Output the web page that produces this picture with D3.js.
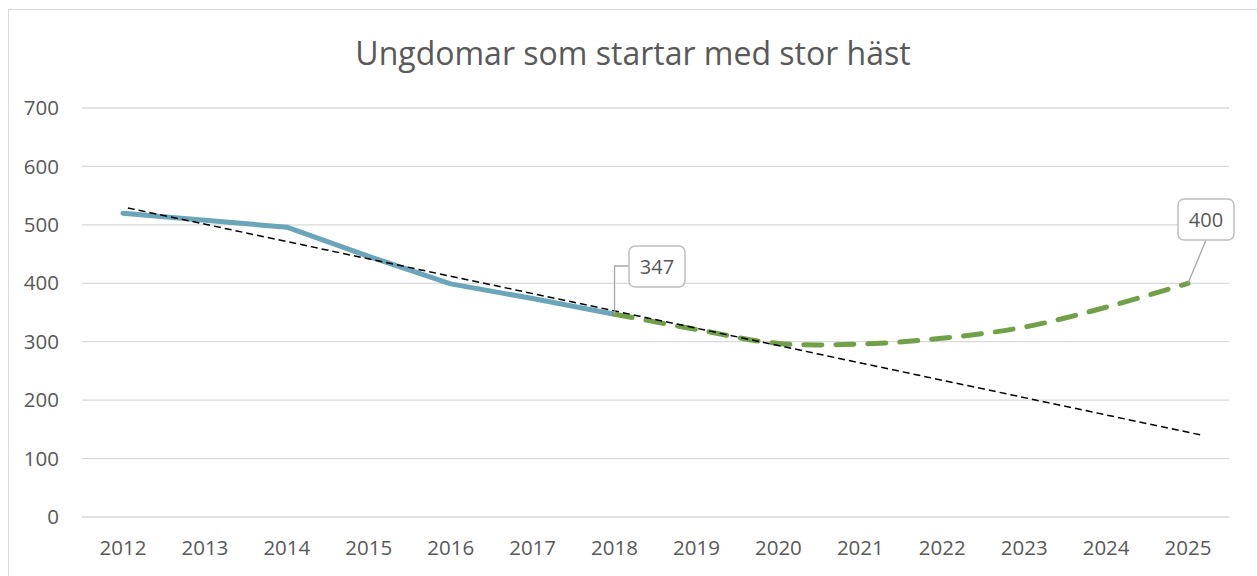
<!DOCTYPE html>
<html>
<head>
<meta charset="utf-8">
<script src="https://cdn.jsdelivr.net/npm/d3@7"></script>
<style>
  body { margin: 0; background: #fff; }
  text { font-family: "Open Sans", "Noto Sans", sans-serif; fill: #595959; }
</style>
</head>
<body>
<div id="chart"></div>
<script>
'use strict';

// data
var years = [2012, 2013, 2014, 2015, 2016, 2017, 2018, 2019, 2020, 2021, 2022, 2023, 2024, 2025];
var actualYears = [2012, 2013, 2014, 2015, 2016, 2017, 2018];
var actualValues = [520, 508, 496, 446, 399, 374, 347];
var forecastYears = [2018, 2019, 2020, 2021, 2022, 2023, 2024, 2025];
var forecastValues = [347, 321, 297, 296, 306, 325, 359, 400];
var trendYears = [2012.06, 2025.17];
var trendValues = [529, 140];
var yTicks = [0, 100, 200, 300, 400, 500, 600, 700];
var title = "Ungdomar som startar med stor häst";

var W = 1257, H = 576;
var margin = {top: 108, right: 28, bottom: 59, left: 82};
var width = W - margin.left - margin.right;
var height = H - margin.top - margin.bottom;

var svg = d3.select("#chart").append("svg")
    .attr("width", W)
    .attr("height", H);

// outer chart border
svg.append("rect")
    .attr("x", 8.5).attr("y", 9.5)
    .attr("width", W + 20).attr("height", H + 20)
    .attr("fill", "#fff")
    .attr("stroke", "#d9d9d9");

svg.append("text")
    .attr("x", 633)
    .attr("y", 65)
    .attr("text-anchor", "middle")
    .style("font-size", "32px")
    .text(title);

var g = svg.append("g")
    .attr("transform", "translate(" + margin.left + "," + margin.top + ")");

var x = d3.scaleLinear()
    .domain([years[0] - 0.5, years[years.length - 1] + 0.5])
    .range([0, width]);

var y = d3.scaleLinear()
    .domain([0, 700])
    .range([height, 0]);

// gridlines
g.append("g")
    .selectAll("line")
    .data(yTicks)
    .enter().append("line")
    .attr("x1", 0).attr("x2", width)
    .attr("y1", function(d) { return y(d); })
    .attr("y2", function(d) { return y(d); })
    .attr("stroke", "#d9d9d9")
    .attr("stroke-width", 1.3);

// y labels
g.append("g")
    .selectAll("text")
    .data(yTicks)
    .enter().append("text")
    .attr("x", -23)
    .attr("y", function(d) { return y(d); })
    .attr("dy", "0.35em")
    .attr("text-anchor", "end")
    .style("font-size", "20.5px")
    .text(function(d) { return d; });

// x labels
g.append("g")
    .selectAll("text")
    .data(years)
    .enter().append("text")
    .attr("x", function(d) { return x(d); })
    .attr("y", height + 31)
    .attr("dy", "0.35em")
    .attr("text-anchor", "middle")
    .style("font-size", "20.5px")
    .text(function(d) { return d; });

var line = d3.line()
    .x(function(d) { return x(d[0]); })
    .y(function(d) { return y(d[1]); });

var smooth = d3.line()
    .curve(d3.curveCatmullRom.alpha(0.5))
    .x(function(d) { return x(d[0]); })
    .y(function(d) { return y(d[1]); });

g.append("path")
    .datum(d3.zip(actualYears, actualValues))
    .attr("d", line)
    .attr("fill", "none")
    .attr("stroke", "#6aa5b9")
    .attr("stroke-width", 5)
    .attr("stroke-linecap", "round")
    .attr("stroke-linejoin", "round");

g.append("path")
    .datum(d3.zip(forecastYears, forecastValues))
    .attr("d", smooth)
    .attr("fill", "none")
    .attr("stroke", "#70a047")
    .attr("stroke-width", 5)
    .attr("stroke-dasharray", "18,14")
    .attr("stroke-linecap", "round");

g.append("path")
    .datum(d3.zip(trendYears, trendValues))
    .attr("d", line)
    .attr("fill", "none")
    .attr("stroke", "#000")
    .attr("stroke-width", 1.5)
    .attr("stroke-dasharray", "7,4");

// data labels with leader lines
function callout(year, value, bx, by, path) {
    var px = x(year), py = y(value);
    g.append("path")
        .attr("d", path(px, py))
        .attr("fill", "none")
        .attr("stroke", "#a6a6a6")
        .attr("stroke-width", 1.3);
    g.append("rect")
        .attr("x", bx).attr("y", by)
        .attr("width", 56).attr("height", 41)
        .attr("rx", 6)
        .attr("fill", "#fff")
        .attr("stroke", "#bfbfbf")
        .attr("stroke-width", 1.5);
    g.append("text")
        .attr("x", bx + 28).attr("y", by + 21)
        .attr("dy", "0.35em")
        .attr("text-anchor", "middle")
        .style("font-size", "20px")
        .text(value);
}

var v2018 = actualValues[actualValues.length - 1];
callout(2018, v2018, 629 - margin.left, 246 - margin.top, function(px, py) {
    return "M" + px + "," + py + "V" + (266 - margin.top) + "H" + (629 - margin.left);
});

var v2025 = forecastValues[forecastValues.length - 1];
callout(2025, v2025, 1178 - margin.left, 199 - margin.top, function(px, py) {
    return "M" + px + "," + py + "L" + (1206 - margin.left) + "," + (240 - margin.top);
});
</script>
</body>
</html>
